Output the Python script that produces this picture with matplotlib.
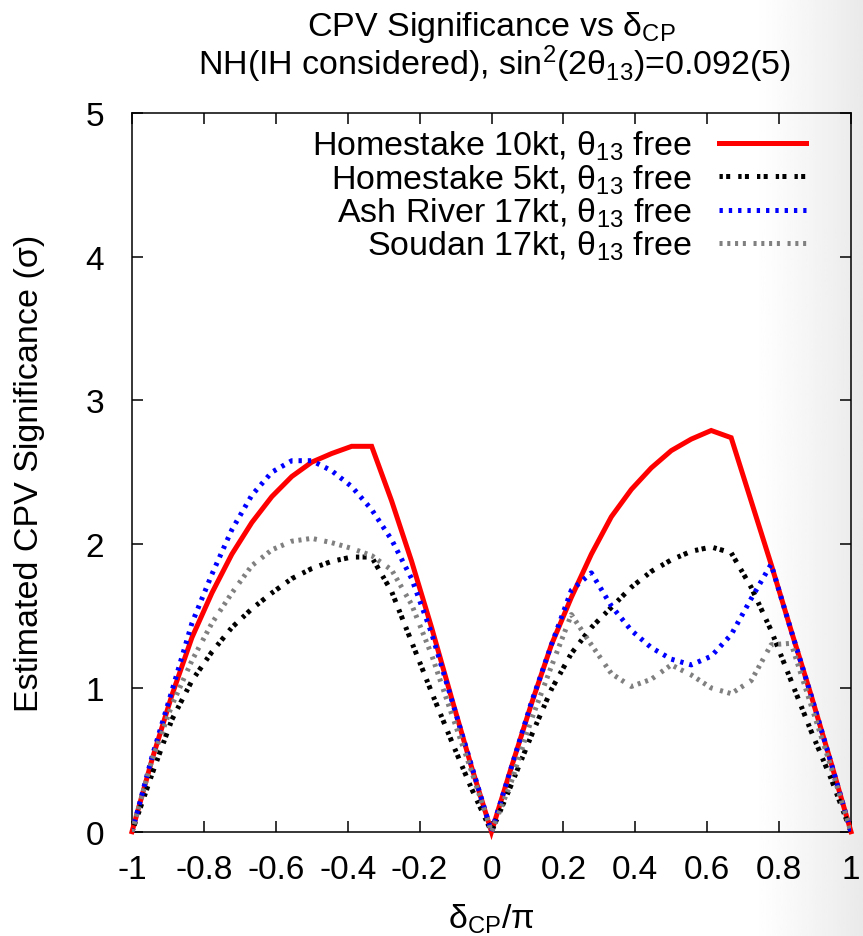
import numpy as np
import matplotlib
matplotlib.use("Agg")
import matplotlib.pyplot as plt

plt.rcParams['font.family'] = ['Liberation Sans', 'DejaVu Sans']
plt.rcParams['mathtext.fontset'] = 'custom'
plt.rcParams['mathtext.rm'] = 'Liberation Sans'
plt.rcParams['mathtext.it'] = 'Liberation Sans:italic'
plt.rcParams['lines.scale_dashes'] = False

# delta_CP / pi sampling
delta = np.linspace(-1, 1, 37)

homestake_10kt = [0.00, 0.50, 0.95, 1.35, 1.66, 1.93, 2.15, 2.33, 2.47, 2.57, 2.63, 2.68, 2.68,
                  2.30, 1.88, 1.42, 0.93, 0.45, 0.00,
                  0.45, 0.89, 1.30, 1.63, 1.93, 2.19, 2.38, 2.53, 2.65, 2.73, 2.79, 2.74,
                  2.30, 1.86, 1.40, 0.95, 0.48, 0.00]
homestake_5kt = [0.00, 0.40, 0.78, 1.05, 1.25, 1.42, 1.55, 1.66, 1.76, 1.83, 1.88, 1.91, 1.91,
                 1.67, 1.32, 0.97, 0.63, 0.30, 0.00,
                 0.33, 0.67, 0.99, 1.24, 1.42, 1.56, 1.70, 1.81, 1.89, 1.95, 1.98, 1.94,
                 1.70, 1.40, 1.05, 0.70, 0.37, 0.00]
ash_river_17kt = [0.00, 0.52, 0.98, 1.45, 1.79, 2.10, 2.34, 2.50, 2.58, 2.58, 2.51, 2.40, 2.24,
                  2.03, 1.76, 1.38, 0.92, 0.46, 0.00,
                  0.45, 0.90, 1.30, 1.68, 1.80, 1.57, 1.40, 1.28, 1.20, 1.16, 1.22, 1.37,
                  1.62, 1.86, 1.40, 0.95, 0.48, 0.00]
soudan_17kt = [0.00, 0.50, 0.88, 1.19, 1.45, 1.66, 1.85, 1.96, 2.02, 2.04, 2.01, 1.97, 1.92,
               1.82, 1.58, 1.23, 0.82, 0.42, 0.00,
               0.35, 0.78, 1.15, 1.51, 1.30, 1.10, 1.01, 1.06, 1.16, 1.09, 1.00, 0.96,
               1.05, 1.30, 1.31, 0.88, 0.45, 0.00]

labels = [r'Homestake 10kt, θ$_{\mathrm{13}}$ free',
          r'Homestake 5kt, θ$_{\mathrm{13}}$ free',
          r'Ash River 17kt, θ$_{\mathrm{13}}$ free',
          r'Soudan 17kt, θ$_{\mathrm{13}}$ free']

xticks = [-1, -0.8, -0.6, -0.4, -0.2, 0, 0.2, 0.4, 0.6, 0.8, 1]
xticklabels = ['-1', '-0.8', '-0.6', '-0.4', '-0.2', '0', '0.2', '0.4', '0.6', '0.8', '1']
yticks = [0, 1, 2, 3, 4, 5]

W, H = 863, 937
fig = plt.figure(figsize=(W / 100, H / 100), dpi=100)

# faint background shading on right side
bg = fig.add_axes([0, 0, 1, 1], zorder=-10)
xs = np.linspace(0, 1, 400)
shade = np.clip((xs - 0.87) / 0.13, 0, 1)
grad = 1 - 0.085 * shade[None, :] ** 1.2
bg.imshow(np.repeat(grad, 2, axis=0), cmap='gray', vmin=0, vmax=1, aspect='auto',
          extent=[0, 1, 0, 1])
bg.set_axis_off()

ax = fig.add_axes([132 / W, 1 - 832.7 / H, 719 / W, 719 / H])
ax.set_facecolor('none')

fs = 24.5
tfs = 24
lw = 3.6
ax.plot(delta, homestake_10kt, color='#ff0000', lw=lw, solid_joinstyle='miter',
        label=labels[0], clip_on=False, zorder=3)
ax.plot(delta, homestake_5kt, color='black', lw=lw, linestyle=(0, (2.4, 2.4, 2.9, 5.8)),
        dash_capstyle='butt', label=labels[1], zorder=4)
ax.plot(delta, ash_river_17kt, color='#0000ff', lw=lw, linestyle=(0, (2.4, 4.3)),
        dash_capstyle='butt', label=labels[2], zorder=5)
ax.plot(delta, soudan_17kt, color='#808080', lw=lw,
        linestyle=(0, (2.2, 3.4, 2.2, 3.4, 2.2, 3.4, 2.2, 5.5)),
        dash_capstyle='butt', label=labels[3], zorder=6)

ax.set_xlim(-1, 1)
ax.set_ylim(0, 5)
ax.set_xticks(xticks)
ax.set_xticklabels(xticklabels)
ax.set_yticks(yticks)
ax.tick_params(direction='in', length=8, width=1.1, top=True, right=True,
               labelsize=tfs)
ax.tick_params(axis='x', pad=16)
ax.tick_params(axis='y', pad=20)
for s in ax.spines.values():
    s.set_linewidth(1.1)

ax.set_xlabel(r'δ$_{\mathrm{CP}}$/π', fontsize=fs, labelpad=12)
ax.set_ylabel('Estimated CPV Significance (σ)', fontsize=fs)
ax.yaxis.set_label_coords(-0.121, 0.5)

leg = ax.legend(loc='upper right', bbox_to_anchor=((808 - 132) / 719 + 0.004, 1 - 11 / 719),
                frameon=False, markerfirst=False, fontsize=fs, handlelength=2.55,
                handletextpad=0.8, labelspacing=0.0, borderaxespad=0.0, borderpad=0.15)

fig.text(491.5 / W, 1 - 36 / H, r'CPV Significance vs δ$_{\mathrm{CP}}$', ha='center',
         va='baseline', fontsize=fs)
fig.text(494.5 / W, 1 - 75 / H, r'NH(IH considered), sin$^{\mathrm{2}}$(2θ$_{\mathrm{13}}$)=0.092(5)',
         ha='center', va='baseline', fontsize=fs)

fig.savefig('out.png', dpi=100)
